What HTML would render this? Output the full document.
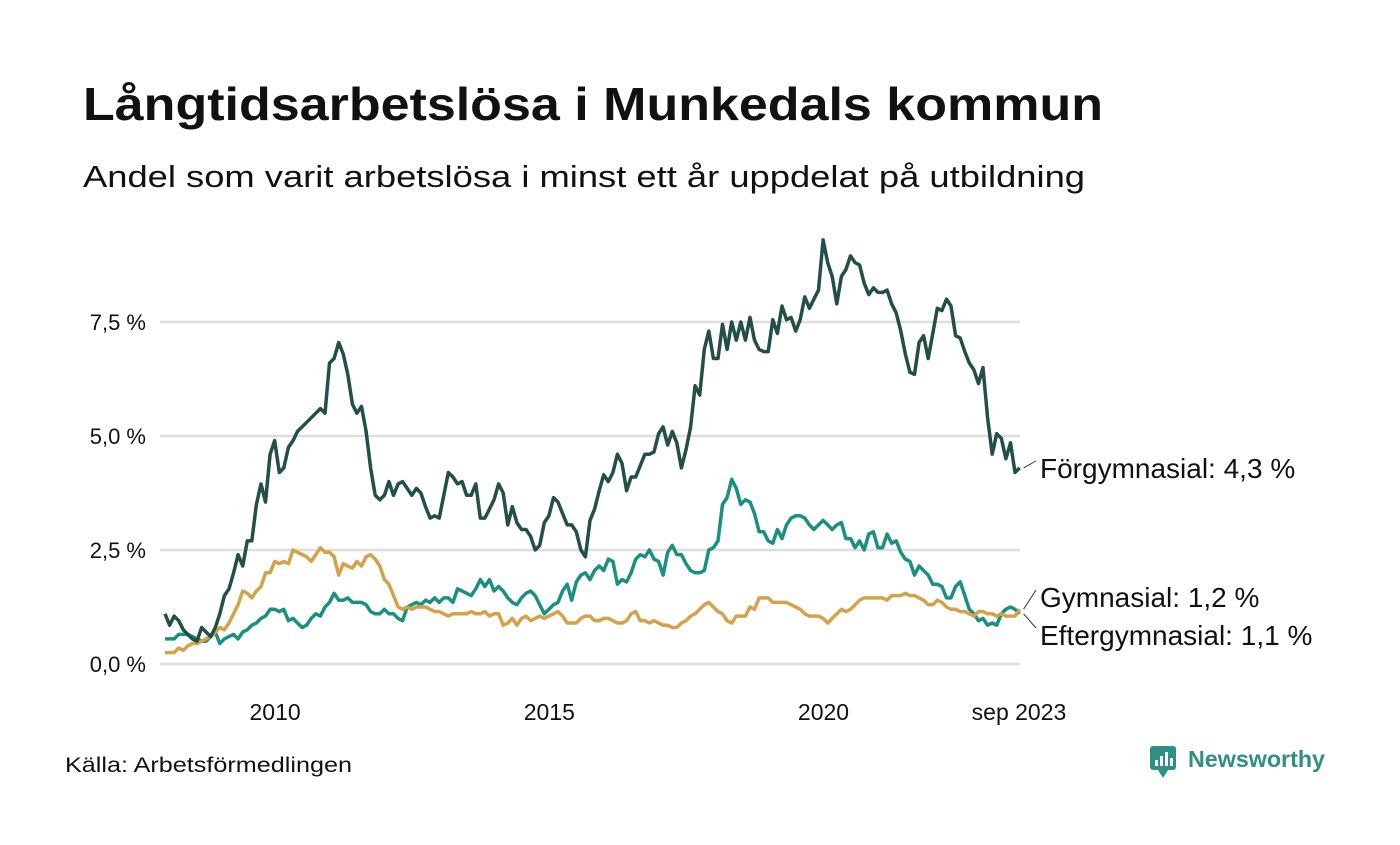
<!DOCTYPE html>
<html><head><meta charset="utf-8">
<style>
html,body{margin:0;padding:0;background:#fff;}
body{width:1400px;height:840px;overflow:hidden;font-family:"Liberation Sans",sans-serif;}
</style></head>
<body>
<svg id="chart" width="1400" height="840" xmlns="http://www.w3.org/2000/svg">
<text x="83" y="120" font-size="46" font-weight="bold" fill="#111" textLength="1020" lengthAdjust="spacingAndGlyphs">Långtidsarbetslösa i Munkedals kommun</text>
<text x="83" y="187" font-size="31" fill="#111" textLength="1002" lengthAdjust="spacingAndGlyphs">Andel som varit arbetslösa i minst ett år uppdelat på utbildning</text>
<g id="grid"></g>
<g id="series"></g>
<g id="labels"></g>
<text x="65" y="772" font-size="21" fill="#111" textLength="287" lengthAdjust="spacingAndGlyphs">Källa: Arbetsförmedlingen</text>
<g>
<rect x="1150" y="746" width="26" height="24" rx="3" fill="#2f8f83"/>
<path d="M1158 770 L1163 778 L1168 770 Z" fill="#2f8f83"/>
<rect x="1155" y="760" width="3" height="6" fill="#fff"/><rect x="1160" y="756" width="3" height="10" fill="#fff"/><rect x="1165" y="752" width="3" height="14" fill="#fff"/><rect x="1170" y="758" width="3" height="8" fill="#fff"/>
<text x="1188" y="767" font-size="23" font-weight="bold" fill="#2f8f83" textLength="137" lengthAdjust="spacingAndGlyphs">Newsworthy</text>
</g>
</svg>
<script>
const yTicks = [0, 2.5, 5, 7.5];
const yTickLabels = ["0,0 %", "2,5 %", "5,0 %", "7,5 %"];
const xTickIdx = [23, 83, 143, 187];
const xTickLabels = ["2010", "2015", "2020", "sep 2023"];
const forgymnasial = [1.1,0.85,1.05,0.95,0.75,0.65,0.55,0.5,0.8,0.7,0.6,
0.8,1.1,1.5,1.65,2.0,2.4,2.15,2.7,2.7,3.5,3.95,3.55,
4.6,4.9,4.2,4.3,4.75,4.9,5.1,5.2,5.3,5.4,5.5,5.6,
5.5,6.6,6.7,7.05,6.8,6.35,5.7,5.5,5.65,5.1,4.3,3.7,
3.6,3.7,4.0,3.7,3.95,4.0,3.85,3.7,3.85,3.75,3.45,3.2,
3.25,3.2,3.7,4.2,4.1,3.95,4.0,3.7,3.7,3.95,3.2,3.2,
3.4,3.6,3.95,3.75,3.05,3.45,3.1,2.95,2.95,2.8,2.5,2.6,
3.1,3.25,3.65,3.55,3.3,3.05,3.05,2.9,2.5,2.35,3.15,3.4,
3.8,4.15,4.0,4.2,4.6,4.4,3.8,4.1,4.1,4.35,4.6,4.6,
4.65,5.05,5.2,4.8,5.1,4.85,4.3,4.7,5.2,6.1,5.9,6.9,
7.3,6.7,6.7,7.45,6.9,7.5,7.1,7.5,7.1,7.6,7.1,6.9,
6.85,6.85,7.55,7.25,7.85,7.55,7.6,7.3,7.55,8.05,7.8,8.0,
8.2,9.3,8.8,8.5,7.9,8.5,8.65,8.95,8.8,8.75,8.35,8.1,
8.25,8.15,8.15,8.2,7.9,7.7,7.3,6.8,6.4,6.35,7.05,7.2,
6.7,7.25,7.8,7.75,8.0,7.85,7.2,7.15,6.85,6.6,6.45,6.15,
6.5,5.4,4.6,5.05,4.95,4.5,4.85,4.2,4.3];
const eftergymnasial = [0.55,0.55,0.55,0.65,0.65,0.65,0.6,0.55,0.5,0.5,0.6,
0.7,0.45,0.55,0.6,0.65,0.55,0.7,0.75,0.85,0.9,1.0,1.05,
1.2,1.2,1.15,1.2,0.95,1.0,0.9,0.8,0.85,1.0,1.1,1.05,
1.25,1.35,1.55,1.4,1.4,1.45,1.35,1.35,1.35,1.3,1.15,1.1,
1.1,1.2,1.1,1.1,1.0,0.95,1.25,1.3,1.35,1.3,1.4,1.35,
1.45,1.35,1.45,1.45,1.35,1.65,1.6,1.55,1.5,1.65,1.85,1.7,
1.85,1.6,1.7,1.6,1.45,1.35,1.3,1.45,1.55,1.6,1.5,1.3,
1.1,1.2,1.3,1.35,1.6,1.75,1.4,1.8,1.95,2.0,1.85,2.05,
2.15,2.05,2.3,2.25,1.75,1.85,1.8,2.0,2.3,2.4,2.35,2.5,
2.3,2.25,1.95,2.45,2.6,2.4,2.4,2.2,2.05,2.0,2.0,2.05,
2.5,2.55,2.7,3.5,3.65,4.05,3.85,3.5,3.6,3.55,3.3,2.9,
2.9,2.7,2.65,2.95,2.75,3.05,3.2,3.25,3.25,3.2,3.05,2.95,
3.05,3.15,3.05,2.95,3.05,3.1,2.75,2.75,2.55,2.7,2.5,2.85,
2.9,2.55,2.55,2.85,2.65,2.7,2.45,2.3,2.25,1.95,2.15,2.05,
1.95,1.75,1.75,1.7,1.45,1.45,1.7,1.8,1.5,1.2,1.1,0.95,
1.0,0.85,0.9,0.85,1.1,1.2,1.25,1.2,1.1];
const gymnasial = [0.25,0.25,0.25,0.35,0.3,0.4,0.45,0.45,0.5,0.55,0.6,
0.7,0.8,0.75,0.9,1.1,1.3,1.6,1.55,1.45,1.6,1.7,2.0,
2.0,2.25,2.2,2.25,2.2,2.5,2.45,2.4,2.35,2.25,2.4,2.55,
2.45,2.45,2.35,1.95,2.2,2.15,2.1,2.25,2.15,2.35,2.4,2.3,
2.15,1.85,1.75,1.5,1.25,1.2,1.25,1.2,1.25,1.25,1.25,1.2,
1.15,1.15,1.1,1.05,1.1,1.1,1.1,1.1,1.15,1.1,1.1,1.15,
1.05,1.1,1.1,0.85,0.9,1.0,0.85,1.0,1.05,0.95,1.0,1.05,
1.0,1.05,1.1,1.15,1.05,0.9,0.9,0.9,1.0,1.05,1.05,0.95,
0.95,1.0,1.0,0.95,0.9,0.9,0.95,1.1,1.15,0.95,0.95,0.9,
0.95,0.9,0.85,0.85,0.8,0.8,0.9,0.95,1.05,1.1,1.2,1.3,
1.35,1.25,1.15,1.1,0.95,0.9,1.05,1.05,1.05,1.25,1.2,1.45,
1.45,1.45,1.35,1.35,1.35,1.35,1.3,1.25,1.2,1.1,1.05,1.05,
1.05,1.0,0.9,1.0,1.1,1.2,1.15,1.2,1.3,1.4,1.45,1.45,
1.45,1.45,1.45,1.4,1.5,1.5,1.5,1.55,1.5,1.5,1.45,1.4,
1.3,1.3,1.4,1.35,1.25,1.2,1.2,1.15,1.15,1.1,1.05,1.15,
1.15,1.1,1.1,1.05,1.1,1.05,1.05,1.05,1.2];
const NS="http://www.w3.org/2000/svg";
const x = i => 165 + i*4.57;
const y = v => 664 - v*45.6;
const grid=document.getElementById('grid');
yTicks.forEach((t,k)=>{
  const l=document.createElementNS(NS,'line');
  l.setAttribute('x1',160);l.setAttribute('x2',1020);l.setAttribute('y1',y(t));l.setAttribute('y2',y(t));
  l.setAttribute('stroke','#dedede');l.setAttribute('stroke-width',2.5);
  
  
  grid.appendChild(l);
  const tx=document.createElementNS(NS,'text');
  tx.setAttribute('x',146);tx.setAttribute('y',y(t)+8);tx.setAttribute('text-anchor','end');
  tx.setAttribute('font-size',22);tx.setAttribute('fill','#111');tx.textContent=yTickLabels[k];
  
  
  grid.appendChild(tx);
});
xTickIdx.forEach((i,k)=>{
  const tx=document.createElementNS(NS,'text');
  tx.setAttribute('x',k===3?1019:x(i)+5);tx.setAttribute('y',720);tx.setAttribute('text-anchor','middle');
  tx.setAttribute('font-size',23);tx.setAttribute('fill','#111');tx.textContent=xTickLabels[k];
  
  
  grid.appendChild(tx);
});
const sg=document.getElementById('series');
[[eftergymnasial,'#1a9080','line-eftergymnasial'],[gymnasial,'#d4a24a','line-gymnasial'],[forgymnasial,'#234f47','line-forgymnasial']].forEach(([d,c,n])=>{
  const p=document.createElementNS(NS,'path');
  p.setAttribute('d',d.map((v,i)=>(i?'L':'M')+x(i).toFixed(1)+' '+y(v).toFixed(1)).join(''));
  p.setAttribute('fill','none');p.setAttribute('stroke',c);p.setAttribute('stroke-width',3.5);p.setAttribute('stroke-linejoin','round');
  
  
  sg.appendChild(p);
});
const lg=document.getElementById('labels');
const last=a=>a[a.length-1];
const fmt=v=>(Math.round(v*10)/10).toFixed(1).replace('.',',')+' %';
[[forgymnasial,469,'Förgymnasial','label-forgymnasial'],[gymnasial,598,'Gymnasial','label-gymnasial'],[eftergymnasial,636,'Eftergymnasial','label-eftergymnasial']].forEach(([d,ly,name,n])=>{
  const ex=x(d.length-1)+4, ey=y(last(d));
  const l=document.createElementNS(NS,'line');
  l.setAttribute('x1',ex);l.setAttribute('y1',ey);l.setAttribute('x2',1036);l.setAttribute('y2',ly-8);
  l.setAttribute('stroke','#333');l.setAttribute('stroke-width',1);
  
  
  lg.appendChild(l);
  const t=document.createElementNS(NS,'text');
  t.setAttribute('x',1040);t.setAttribute('y',ly+9);t.setAttribute('font-size',28);t.setAttribute('fill','#111');
  t.textContent=name+': '+fmt(last(d));
  
  
  lg.appendChild(t);
});
</script>
</body></html>
